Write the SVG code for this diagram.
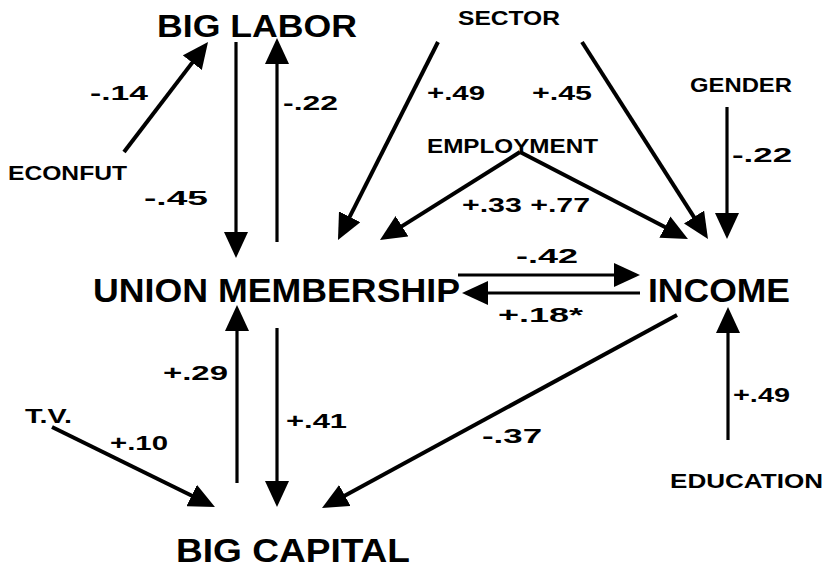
<svg xmlns="http://www.w3.org/2000/svg" width="831" height="568" viewBox="0 0 831 568">
<defs>
<style>
text{font-family:"Liberation Sans",Arial,sans-serif;font-weight:bold;fill:#000}
.big{font-size:32px}
.mid{font-size:20px}
.coef{font-size:20px}
.c{stroke:#000;stroke-width:4;fill:none;marker-end:url(#ah)}
.t{stroke-width:3.2}
</style>
<marker id="ah" markerUnits="userSpaceOnUse" markerWidth="26" markerHeight="24" refX="6" refY="12" orient="auto" viewBox="0 0 26 24">
<path d="M0,0 L26,12 L0,24 z" fill="#000"/>
</marker>
</defs>
<rect width="831" height="568" fill="#fff"/>
<g id="connectors">
<line class="c" x1="124" y1="152" x2="195.9" y2="57.9"/>
<line class="c t" x1="236" y1="42" x2="236" y2="238"/>
<line class="c t" x1="277" y1="242" x2="277" y2="58"/>
<line class="c" x1="438" y1="42" x2="347" y2="222.1"/>
<line class="c" x1="520" y1="152" x2="396.9" y2="229.4"/>
<line class="c" x1="520" y1="152" x2="670.2" y2="229.8"/>
<line class="c" x1="582" y1="42" x2="697.2" y2="222.1"/>
<line class="c t" x1="727" y1="107" x2="727" y2="219"/>
<line class="c t" x1="458" y1="275" x2="620" y2="275"/>
<line class="c t" x1="640" y1="293" x2="482" y2="293"/>
<line class="c" x1="677" y1="315" x2="339.6" y2="498.4"/>
<line class="c t" x1="728" y1="440" x2="728" y2="327"/>
<line class="c t" x1="237" y1="483" x2="237" y2="325"/>
<line class="c t" x1="277" y1="328" x2="277" y2="487"/>
<line class="c" x1="52" y1="427" x2="197" y2="498.2"/>
<g id="coefficients">
<text class="coef" x="90" y="100" textLength="58" lengthAdjust="spacingAndGlyphs">-.14</text>
<text class="coef" x="283" y="110" textLength="55" lengthAdjust="spacingAndGlyphs">-.22</text>
<text class="coef" x="144" y="205" textLength="64" lengthAdjust="spacingAndGlyphs">-.45</text>
<text class="coef" x="427" y="100" textLength="58" lengthAdjust="spacingAndGlyphs">+.49</text>
<text class="coef" x="532" y="100" textLength="60" lengthAdjust="spacingAndGlyphs">+.45</text>
<text class="coef" x="732" y="162" textLength="60" lengthAdjust="spacingAndGlyphs">-.22</text>
<text class="coef" x="462" y="212" textLength="128" lengthAdjust="spacingAndGlyphs">+.33 +.77</text>
<text class="coef" x="516" y="263" textLength="62" lengthAdjust="spacingAndGlyphs">-.42</text>
<text class="coef" x="498" y="322" textLength="85" lengthAdjust="spacingAndGlyphs">+.18*</text>
<text class="coef" x="163" y="380" textLength="65" lengthAdjust="spacingAndGlyphs">+.29</text>
<text class="coef" x="286" y="428" textLength="61" lengthAdjust="spacingAndGlyphs">+.41</text>
<text class="coef" x="110" y="450" textLength="58" lengthAdjust="spacingAndGlyphs">+.10</text>
<text class="coef" x="482" y="443" textLength="60" lengthAdjust="spacingAndGlyphs">-.37</text>
<text class="coef" x="733" y="402" textLength="57" lengthAdjust="spacingAndGlyphs">+.49</text>
</g>
</g>
<g id="big-labor"><text class="big" x="157" y="37" textLength="200" lengthAdjust="spacingAndGlyphs">BIG LABOR</text></g>
<g id="union-membership"><text class="big" x="93" y="302" font-size="34" style="font-size:34px" textLength="367" lengthAdjust="spacingAndGlyphs">UNION MEMBERSHIP</text></g>
<g id="income"><text class="big" x="648" y="302" style="font-size:34px" textLength="142" lengthAdjust="spacingAndGlyphs">INCOME</text></g>
<g id="big-capital"><text class="big" x="176" y="562" style="font-size:33px" textLength="234" lengthAdjust="spacingAndGlyphs">BIG CAPITAL</text></g>
<g id="econfut"><text class="mid" x="8" y="180" textLength="119" lengthAdjust="spacingAndGlyphs">ECONFUT</text></g>
<g id="sector"><text class="mid" x="458" y="25" textLength="102" lengthAdjust="spacingAndGlyphs">SECTOR</text></g>
<g id="gender"><text class="mid" x="690" y="92" textLength="102" lengthAdjust="spacingAndGlyphs">GENDER</text></g>
<g id="employment"><text class="mid" x="427" y="153" textLength="171" lengthAdjust="spacingAndGlyphs">EMPLOYMENT</text></g>
<g id="tv"><text class="mid" x="25" y="423" textLength="47" lengthAdjust="spacingAndGlyphs">T.V.</text></g>
<g id="education"><text class="mid" x="670" y="488" textLength="153" lengthAdjust="spacingAndGlyphs">EDUCATION</text></g>
</svg>
